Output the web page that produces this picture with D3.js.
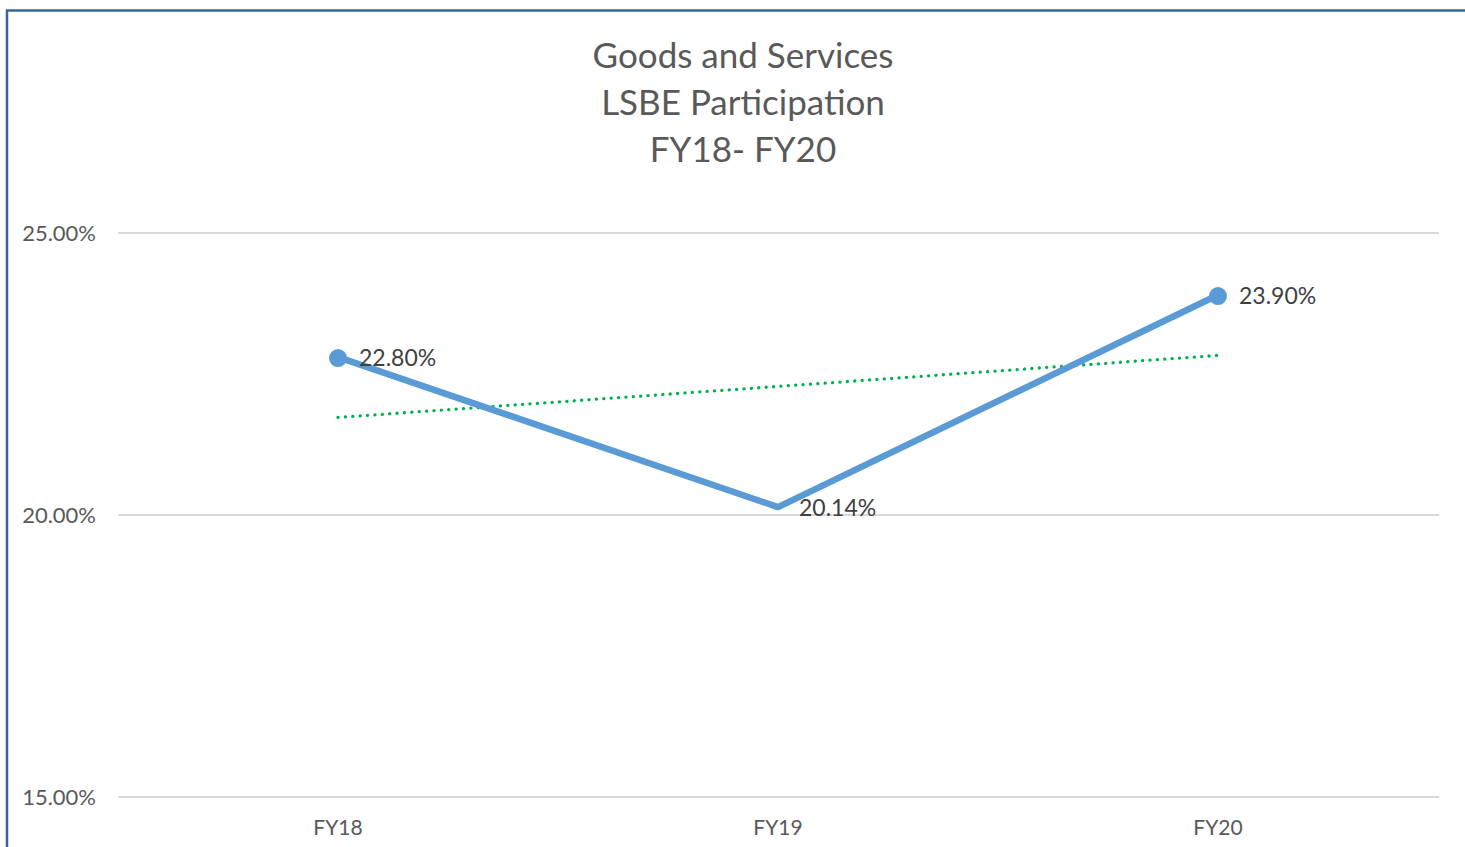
<!DOCTYPE html>
<html><head><meta charset="utf-8">
<script src="https://cdn.jsdelivr.net/npm/d3@7"></script>
<style>body{margin:0;background:#fff;}svg{display:block;}</style>
</head><body>
<svg id="chart" width="1465" height="847"></svg>
<script>
const categories = ["FY18", "FY19", "FY20"];
const values = [22.80, 20.14, 23.90];
const markerShown = [true, false, true];
const yTicks = [15, 20, 25];
const titleLines = ["Goods and Services", "LSBE Participation", "FY18- FY20"];

const svg = d3.select("#chart");
const font = "Lato, 'Open Sans', sans-serif";

// frame border
svg.append("path").attr("d", "M7,847 V10.5 H1465")
  .attr("fill", "none").attr("stroke", "#3b6597").attr("stroke-width", 2.5);

const x = d3.scaleBand().domain(categories).range([118, 1438]);
const y = d3.scaleLinear().domain([15, 25]).range([797, 233]);

// gridlines
svg.append("g").selectAll("line").data(yTicks).join("line")
  .attr("x1", 118).attr("x2", 1439)
  .attr("y1", d => y(d)).attr("y2", d => y(d))
  .attr("stroke", "#d9d9d9").attr("stroke-width", 2);

// y axis labels
const yAxis = d3.axisLeft(y).tickValues(yTicks).tickSize(0).tickPadding(0)
  .tickFormat(d => d3.format(".2f")(d) + "%");
const yg = svg.append("g").attr("transform", "translate(96,0)").call(yAxis);
yg.select(".domain").remove();
yg.selectAll("text").attr("font-family", font).attr("font-size", 22)
  .attr("fill", "#595959").attr("dy", "0.35em");

// x axis labels
const xAxis = d3.axisBottom(x).tickSize(0).tickPadding(0);
const xg = svg.append("g").attr("transform", "translate(0,820)").call(xAxis);
xg.select(".domain").remove();
xg.selectAll("text").attr("font-family", font).attr("font-size", 21)
  .attr("fill", "#595959").attr("dy", "0.71em");

const cx = d => x(d) + x.bandwidth() / 2;

// linear trendline (least squares on the data)
const n = values.length;
const xs = d3.range(n);
const mx = d3.mean(xs), my = d3.mean(values);
const slope = d3.sum(xs, (xi, i) => (xi - mx) * (values[i] - my)) / d3.sum(xs, xi => (xi - mx) ** 2);
const intercept = my - slope * mx;
svg.append("line")
  .attr("x1", cx(categories[0])).attr("y1", y(intercept))
  .attr("x2", cx(categories[n - 1])).attr("y2", y(intercept + slope * (n - 1)))
  .attr("stroke", "#00b050").attr("stroke-width", 3.3)
  .attr("stroke-dasharray", "0.1 7.3").attr("stroke-linecap", "round");

// series line
const line = d3.line().x((d, i) => cx(categories[i])).y(d => y(d));
svg.append("path").datum(values).attr("d", line)
  .attr("fill", "none").attr("stroke", "#5b9bd5").attr("stroke-width", 6.5)
  .attr("stroke-linejoin", "round");

// markers
svg.append("g").selectAll("circle").data(values.map((v, i) => ({v, i})).filter(d => markerShown[d.i]))
  .join("circle")
  .attr("cx", d => cx(categories[d.i])).attr("cy", d => y(d.v) + 1).attr("r", 9)
  .attr("fill", "#5b9bd5");

// data labels
svg.append("g").selectAll("text").data(values).join("text")
  .attr("x", (d, i) => cx(categories[i]) + 21)
  .attr("y", d => y(d) + 9)
  .attr("font-family", font).attr("font-size", 23).attr("fill", "#404040")
  .text(d => d3.format(".2f")(d) + "%");

// title
svg.append("g").selectAll("text").data(titleLines).join("text")
  .attr("x", 743).attr("y", (d, i) => 68 + i * 47)
  .attr("text-anchor", "middle")
  .attr("font-family", font).attr("font-size", 35).attr("fill", "#595959")
  .text(d => d);
</script>
</body></html>
